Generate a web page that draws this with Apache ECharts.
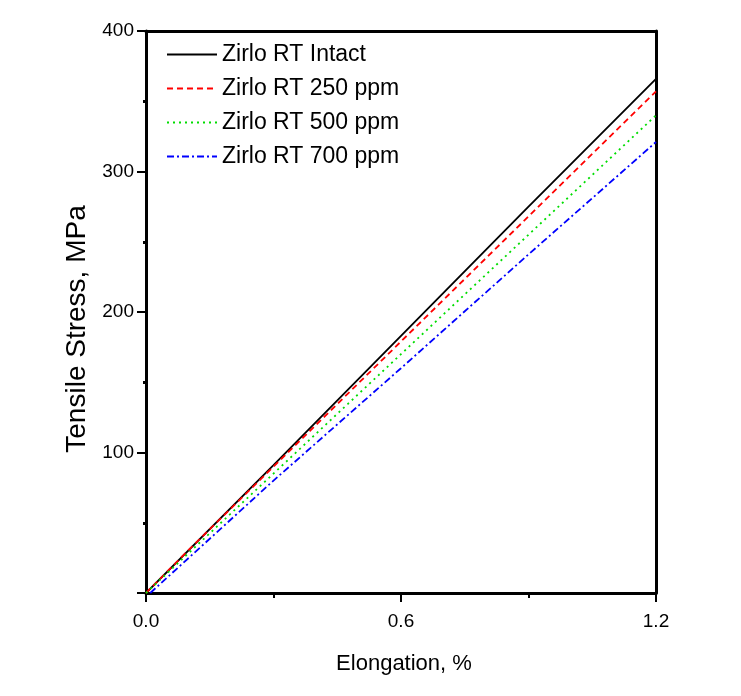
<!DOCTYPE html>
<html><head><meta charset="utf-8">
<script src="https://cdn.jsdelivr.net/npm/echarts@6/dist/echarts.min.js"></script>
<style>html,body{margin:0;padding:0;background:#fff}#c{width:741px;height:696px}</style>
</head><body><div id="c"></div>
<script>
const seriesNames = ['Zirlo RT Intact', 'Zirlo RT 250 ppm', 'Zirlo RT 500 ppm', 'Zirlo RT 700 ppm'];
const intactX = [0, 0.3, 0.6, 0.9, 1.2];
const intactY = [0, 91, 183, 275, 366];
const ppm250X = [0, 0.1, 0.3, 0.6, 0.9, 1.2];
const ppm250Y = [0, 30.5, 90, 179, 268, 357];
const ppm500X = [0, 0.3, 0.6, 0.9, 1.2];
const ppm500Y = [0, 85, 170, 255, 340];
const ppm700X = [0.01, 0.3, 0.6, 0.9, 1.2];
const ppm700Y = [0, 80, 160, 241, 321];
const xTicks = [0, 0.6, 1.2];
const yTicks = [100, 200, 300, 400];

const pairs = (xs, ys) => xs.map((x, i) => [x, ys[i]]);
const font = 'Arial';
const chart = echarts.init(document.getElementById('c'));
const styles = [
  {color: '#000000', type: 'solid'},
  {color: '#ff0000', type: [6, 4]},
  {color: '#00dd00', type: [2, 4]},
  {color: '#0000ff', type: [7, 3, 2, 3]}
];
const datas = [pairs(intactX, intactY), pairs(ppm250X, ppm250Y), pairs(ppm500X, ppm500Y), pairs(ppm700X, ppm700Y)];
chart.setOption({
  animation: false,
  backgroundColor: '#fff',
  grid: {left: 146, right: 85, top: 31, bottom: 103, show: false},
  legend: {
    left: 166, top: 43, padding: 0, orient: 'vertical', itemWidth: 50, itemHeight: 14, itemGap: 11,
    itemStyle: {opacity: 0},
    textStyle: {fontFamily: font, fontSize: 23, color: '#000'},
    data: seriesNames
  },
  xAxis: [{
    type: 'value', min: 0, max: 1.2, interval: 0.6,
    name: 'Elongation, %', nameLocation: 'middle', nameGap: 60,
    nameTextStyle: {fontFamily: font, fontSize: 22, color: '#000', padding: [0, 0, 0, 6]},
    axisLine: {show: true, onZero: false, lineStyle: {color: '#000', width: 3}},
    axisTick: {show: true, inside: false, length: 9, lineStyle: {color: '#000', width: 2}},
    minorTick: {show: true, splitNumber: 2, length: 5, lineStyle: {color: '#000', width: 2}},
    axisLabel: {fontFamily: font, fontSize: 19, color: '#000', margin: 19,
      formatter: v => (xTicks.some(t => Math.abs(t - v) < 1e-9) ? v.toFixed(1) : '')},
    splitLine: {show: false}
  }, {
    type: 'value', position: 'top', min: 0, max: 1.2,
    axisLine: {show: true, onZero: false, lineStyle: {color: '#000', width: 3}},
    axisTick: {show: false}, axisLabel: {show: false}, splitLine: {show: false}
  }],
  yAxis: [{
    type: 'value', min: 0, max: 400, interval: 100,
    name: 'Tensile Stress, MPa', nameLocation: 'middle', nameGap: 54,
    nameTextStyle: {fontFamily: font, fontSize: 28, color: '#000', padding: [0, 34, 0, 0]},
    axisLine: {show: true, onZero: false, lineStyle: {color: '#000', width: 3}},
    axisTick: {show: true, inside: false, length: 9, lineStyle: {color: '#000', width: 2}},
    minorTick: {show: true, splitNumber: 2, length: 3, lineStyle: {color: '#000', width: 3}},
    axisLabel: {fontFamily: font, fontSize: 19, color: '#000', margin: 12,
      formatter: v => (yTicks.includes(v) ? String(v) : '')},
    splitLine: {show: false}
  }, {
    type: 'value', position: 'right', min: 0, max: 400,
    axisLine: {show: true, onZero: false, lineStyle: {color: '#000', width: 3}},
    axisTick: {show: false}, axisLabel: {show: false}, splitLine: {show: false}
  }],
  series: seriesNames.map((n, i) => ({
    name: n, type: 'line', showSymbol: false, symbol: 'none', data: datas[i],
    lineStyle: {color: styles[i].color, type: styles[i].type, width: 1.8},
    itemStyle: {color: styles[i].color}, z: 1
  }))
});
</script></body></html>
